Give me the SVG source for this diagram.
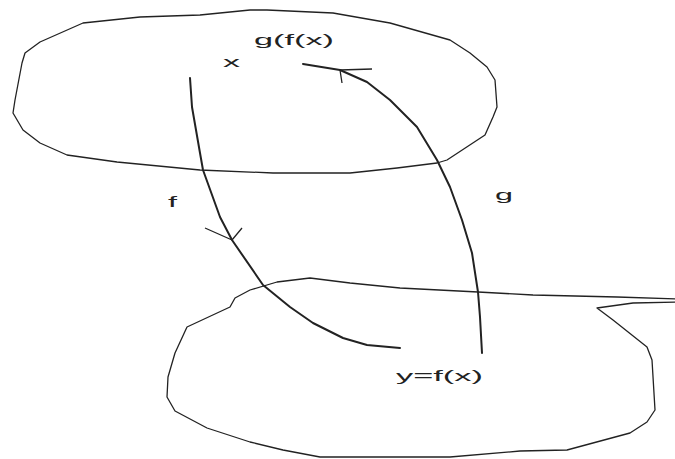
<svg xmlns="http://www.w3.org/2000/svg" width="675" height="459" viewBox="0 0 675 459">
<style>
.blob{fill:none;stroke:#222;stroke-width:1.3;stroke-linejoin:round}
.edge{fill:none;stroke:#222;stroke-width:2;stroke-linejoin:round;stroke-linecap:round}
.tip{fill:none;stroke:#222;stroke-width:1.3;stroke-linejoin:round}
.lbl{font-family:"Liberation Sans",Arial,sans-serif;font-size:14px;fill:#222}
</style>
<rect width="675" height="459" fill="#fff"/>
<g id="setX">
<path class="blob" d="M83,23 L140,17 L200,15 L250,10 L267,10 L333,13 L390,23 L450,40 L470,53 L487,67 L495,80 L497,107 L493,117 L485,135 L447,160 L437,163 L397,168 L350,173 L273,173 L200,170 L117,162 L67,155 L40,143 L23,130 L13,113 L15,100 L22,63 L25,53 L40,42 Z"/>
<text class="lbl" x="254" y="45" textLength="80" lengthAdjust="spacingAndGlyphs">g(f(x)</text>
<text class="lbl" x="223" y="67" textLength="17" lengthAdjust="spacingAndGlyphs">x</text>
</g>
<g id="setY">
<path class="blob" d="M187,327 L230,307 L235,298 L250,290 L277,282 L310,278 L350,283 L400,288 L478,292 L533,295 L617,297 L680,299 L680,302 L633,303 L597,308 L613,320 L647,347 L652,360 L655,410 L647,422 L630,433 L567,450 L520,451 L450,457 L320,457 L283,450 L250,442 L207,428 L175,411 L167,397 L168,377 L175,353 Z"/>
<text class="lbl" x="396" y="381" textLength="87" lengthAdjust="spacingAndGlyphs">y=f(x)</text>
</g>
<g id="connectors">
<g id="edge-f">
<path class="edge" d="M190,78 L192,107 L200,153 L203,170 L220,217 L232,240 L263,285 L290,307 L313,323 L343,338 L367,345 L400,348"/>
<path class="tip" d="M205,228 L232,240 L242,228"/>
<text class="lbl" x="168" y="207" textLength="9" lengthAdjust="spacingAndGlyphs">f</text>
</g>
<g id="edge-g">
<path class="edge" d="M303,64 L340,70 L367,82 L390,100 L417,127 L437,160 L450,187 L462,220 L472,253 L478,292 L480,317 L482,353"/>
<path class="tip" d="M372,69 L340,70 L342,83"/>
<text class="lbl" x="495" y="200" textLength="18" lengthAdjust="spacingAndGlyphs">g</text>
</g>
</g>
</svg>
